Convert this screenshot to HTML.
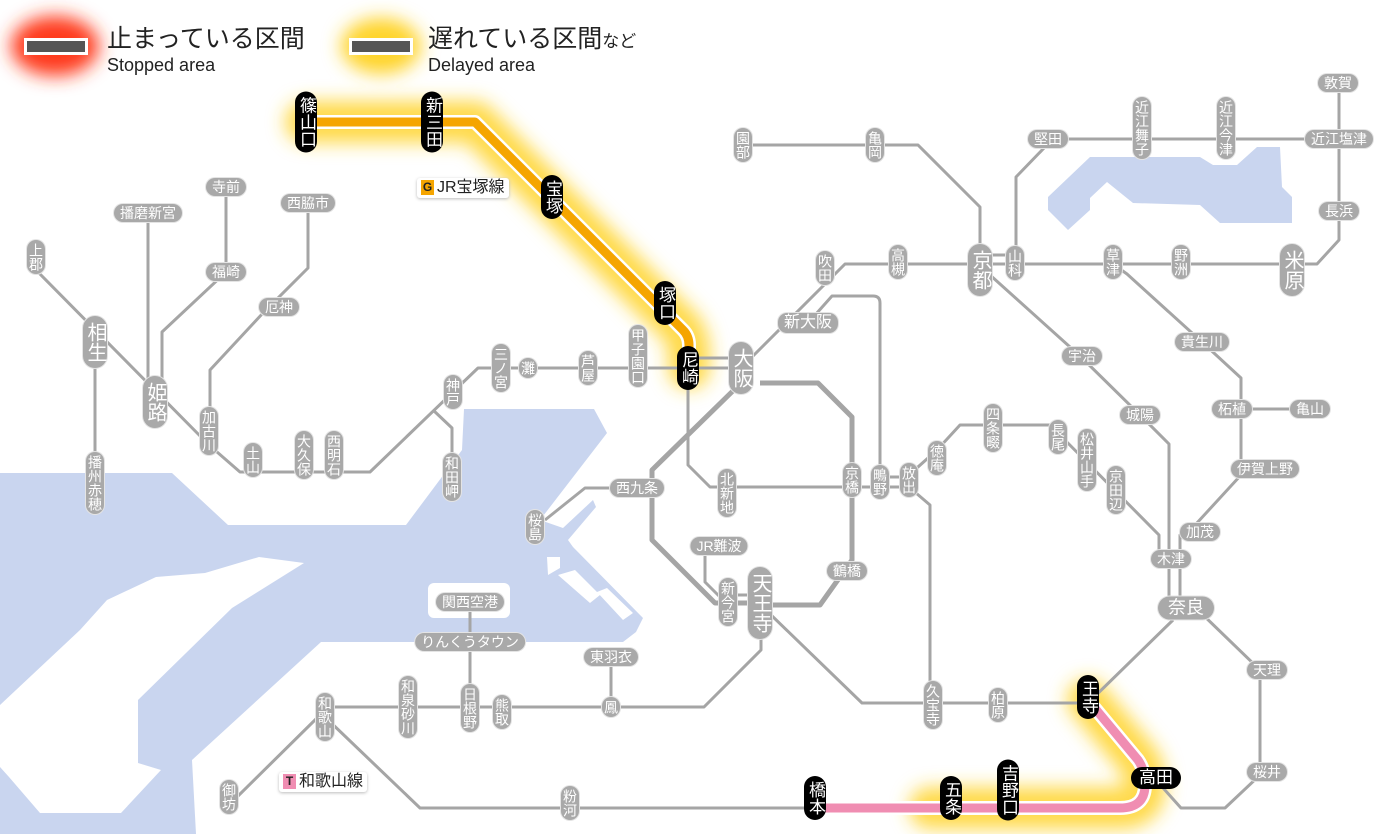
<!DOCTYPE html>
<html><head><meta charset="utf-8">
<style>
html,body{margin:0;padding:0;background:#fff;}
#w{position:relative;width:1400px;height:834px;overflow:hidden;background:#fff;}
svg{position:absolute;left:0;top:0;}
.s{position:absolute;transform:translate(-50%,-50%);background:#a9a9a9;color:#fff;font-family:"Liberation Sans","Noto Sans CJK JP",sans-serif;border-radius:9px;text-align:center;white-space:nowrap;box-shadow:0 0 0 1px #e4e4e4;}
.v{writing-mode:vertical-rl;text-orientation:upright;font-size:14px;line-height:18px;padding:3px 0;letter-spacing:0;}
.h{font-size:14px;line-height:18px;height:18px;padding:0 6px;}
.b{writing-mode:vertical-rl;text-orientation:upright;font-size:20px;line-height:24px;padding:6px 0;border-radius:12px;letter-spacing:0;}
.bh{font-size:18px;line-height:23px;height:23px;padding:0 10px;border-radius:12px;}
.k{background:#000;box-shadow:none;writing-mode:vertical-rl;text-orientation:upright;font-size:17px;line-height:22px;padding:5px 0;border-radius:11px;letter-spacing:0;}
.kh{background:#000;box-shadow:none;font-size:17px;line-height:22px;height:22px;padding:0 8px;border-radius:11px;}
.lt{position:absolute;font-family:"Liberation Sans","Noto Sans CJK JP",sans-serif;color:#222;white-space:nowrap;}
.tag{position:absolute;background:#fff;box-shadow:0 1px 3px #bbb;border-radius:3px;font-family:"Liberation Sans","Noto Sans CJK JP",sans-serif;font-size:16px;line-height:20px;padding:0 4px;color:#222;white-space:nowrap;}
.tag i{font-style:normal;display:inline-block;width:13px;height:15px;line-height:15px;font-size:12px;font-weight:bold;text-align:center;margin-right:3px;vertical-align:1px;}
</style></head><body><div id="w">
<svg width="1400" height="834" viewBox="0 0 1400 834">
<defs>
<filter id="bl2" x="-50%" y="-50%" width="200%" height="200%"><feGaussianBlur stdDeviation="9"/></filter>
</defs>
<path fill="#c9d5ef" d="M0,473 L172,473 L228,525 L406,525 L462,450 L464,409 L594,409 L607,433 L540,520 L563,528 L593,500 L596,507 L568,540 L573,547 L643,618 L636,632 L623,642 L321,642 L192,760 L196,834 L0,834 Z"/>
<path fill="#fff" d="M0,705 L80,630 L107,600 L156,577 L205,573 L259,557 L304,563 L232,608 L138,700 L138,763 L161,770 L121,813 L40,813 L9,777 L0,767 Z"/>
<path fill="#fff" d="M547,557 L560,557 L560,568 L548,575 Z M558,575 L575,570 L600,595 L590,603 Z M597,592 L607,588 L633,613 L623,620 Z"/>
<rect x="428" y="583" width="82" height="35" rx="6" fill="#fff"/>
<path fill="#c9d5ef" d="M1048,197 L1090,157 L1200,157 L1213,165 L1237,165 L1257,147 L1280,147 L1282,187 L1292,197 L1292,223 L1220,223 L1200,205 L1133,203 L1107,182 L1090,198 L1090,210 L1068,230 L1048,210 Z"/>
<g filter="url(#bl2)">
<path d="M306,122 H475 L683,330 L689,345 V368" fill="none" stroke="#ffd42a" stroke-width="42" stroke-linejoin="round" stroke-linecap="round" opacity="0.85"/>
<path d="M1088,700 L1138,760 Q1145,770 1145,785 Q1145,808 1120,808 H930" fill="none" stroke="#ffd42a" stroke-width="42" stroke-linejoin="round" stroke-linecap="round" opacity="0.85"/>
<ellipse cx="55" cy="46" rx="44" ry="30" fill="#ff3a1a"/>
<ellipse cx="381" cy="46" rx="40" ry="28" fill="#ffd42a"/>
</g>
<g fill="none" stroke="#a5a5a5" stroke-width="3" stroke-linejoin="round">
<path d="M36,270 L209,445 L240,472 L370,472 L453,392 L478,368 L741,368"/>
<path d="M95,342 V483"/>
<path d="M148,213 V395"/>
<path d="M226,187 V272 M226,272 L162,332 V395"/>
<path d="M308,203 V268 L263,313 L210,370 V430"/>
<path d="M433,410 L452,428 V477"/>
<path d="M688,358 H741"/>
<path d="M741,368 L826,283 L845,264 H1317 L1339,240 V83"/>
<path d="M808,323 L832,296 H873 Q880,296 880,303 V482"/>
<path d="M743,145 H918 L980,207 V270"/>
<path d="M1048,139 H1339 M1045,147 L1016,177 V263"/>
<path d="M980,255 H1015"/>
<path d="M990,275 L1080,356 L1140,415 L1169,444 V609"/>
<path d="M1113,264 L1127,274 L1202,342 L1241,378 V469 M1232,409 H1310 M1241,475 L1196,524 L1180,535 V609"/>
<path d="M909,475 L937,450 L960,425 H1050 L1159,535 V560"/>
<path d="M688,368 V465 L710,487 H909 M880,477 H909"/>
<path d="M909,487 L930,505 V705"/>
<path d="M637,488 H585 L545,520"/>
<path d="M705,546 V582 L725,602 M728,595 H760"/>
<path d="M761,630 V650 L704,707 H325"/>
<path d="M769,613 L862,703 H1088 L1173,620"/>
<path d="M1200,612 L1260,670 V775 L1225,808 H1181 L1156,780"/>
<path d="M325,717 L420,808 H815"/>
<path d="M318,717 L237,797"/>
<path d="M470,602 V708 M611,657 V707"/>
</g>
<path d="M760,383 H818 L852,417 V560 L820,605 H760 M741,383 L652,470 V540 L715,603 H760" fill="none" stroke="#a5a5a5" stroke-width="5" stroke-linejoin="round"/>
<g fill="none" stroke-linejoin="round">
<path d="M306,122 H475 L683,330 Q689,336 689,345 V368" stroke="#fff" stroke-width="14"/>
<path d="M306,122 H475 L683,330 Q689,336 689,345 V368" stroke="#f5a500" stroke-width="9"/>
<path d="M1088,700 L1138,760 Q1145,770 1145,785 Q1145,808 1120,808 H815" stroke="#fff" stroke-width="14"/>
<path d="M1088,700 L1138,760 Q1145,770 1145,785 Q1145,808 1120,808 H815" stroke="#f08db2" stroke-width="9"/>
</g>
<rect x="24" y="38" width="64" height="17" fill="#fff"/><rect x="27" y="41" width="58" height="11" fill="#555"/>
<rect x="349" y="38" width="64" height="17" fill="#fff"/><rect x="352" y="41" width="58" height="11" fill="#555"/>
</svg>

<div class="lt" style="left:107px;top:24px;font-size:25px;line-height:30px;">止まっている区間</div>
<div class="lt" style="left:107px;top:54px;font-size:18px;line-height:22px;">Stopped area</div>
<div class="lt" style="left:428px;top:24px;font-size:25px;line-height:30px;">遅れている区間<span style="font-size:17px">など</span></div>
<div class="lt" style="left:428px;top:54px;font-size:18px;line-height:22px;">Delayed area</div>

<div class="tag" style="left:417px;top:178px;"><i style="background:#f5a500;color:#222">G</i>JR宝塚線</div>
<div class="tag" style="left:279px;top:772px;"><i style="background:#f08db2;color:#222">T</i>和歌山線</div>

<div class="s v" style="left:36px;top:257px">上郡</div>
<div class="s v" style="left:95px;top:483px">播州赤穂</div>
<div class="s v" style="left:209px;top:431px">加古川</div>
<div class="s v" style="left:253px;top:460px">土山</div>
<div class="s v" style="left:304px;top:455px">大久保</div>
<div class="s v" style="left:334px;top:455px">西明石</div>
<div class="s v" style="left:453px;top:392px">神戸</div>
<div class="s v" style="left:452px;top:477px">和田岬</div>
<div class="s v" style="left:501px;top:368px">三ノ宮</div>
<div class="s v" style="left:528px;top:368px">灘</div>
<div class="s v" style="left:588px;top:368px">芦屋</div>
<div class="s v" style="left:638px;top:356px">甲子園口</div>
<div class="s v" style="left:825px;top:268px">吹田</div>
<div class="s v" style="left:898px;top:262px">高槻</div>
<div class="s v" style="left:1015px;top:263px">山科</div>
<div class="s v" style="left:743px;top:145px">園部</div>
<div class="s v" style="left:875px;top:145px">亀岡</div>
<div class="s v" style="left:535px;top:527px">桜島</div>
<div class="s v" style="left:727px;top:493px">北新地</div>
<div class="s v" style="left:852px;top:480px">京橋</div>
<div class="s v" style="left:880px;top:482px">鴫野</div>
<div class="s v" style="left:909px;top:480px">放出</div>
<div class="s v" style="left:937px;top:458px">徳庵</div>
<div class="s v" style="left:728px;top:602px">新今宮</div>
<div class="s v" style="left:1142px;top:128px">近江舞子</div>
<div class="s v" style="left:1226px;top:128px">近江今津</div>
<div class="s v" style="left:1113px;top:262px">草津</div>
<div class="s v" style="left:1181px;top:262px">野洲</div>
<div class="s v" style="left:993px;top:428px">四条畷</div>
<div class="s v" style="left:1058px;top:437px">長尾</div>
<div class="s v" style="left:1087px;top:460px">松井山手</div>
<div class="s v" style="left:1116px;top:490px">京田辺</div>
<div class="s v" style="left:933px;top:705px">久宝寺</div>
<div class="s v" style="left:998px;top:705px">柏原</div>
<div class="s v" style="left:570px;top:803px">粉河</div>
<div class="s v" style="left:325px;top:717px">和歌山</div>
<div class="s v" style="left:408px;top:707px">和泉砂川</div>
<div class="s v" style="left:470px;top:708px">日根野</div>
<div class="s v" style="left:502px;top:712px">熊取</div>
<div class="s v" style="left:611px;top:707px">鳳</div>
<div class="s v" style="left:229px;top:797px">御坊</div>
<div class="s b" style="left:95px;top:342px">相生</div>
<div class="s b" style="left:155px;top:402px">姫路</div>
<div class="s b" style="left:741px;top:368px">大阪</div>
<div class="s b" style="left:980px;top:270px">京都</div>
<div class="s b" style="left:1292px;top:270px">米原</div>
<div class="s b" style="left:760px;top:603px">天王寺</div>
<div class="s h" style="left:148px;top:213px">播磨新宮</div>
<div class="s h" style="left:226px;top:187px">寺前</div>
<div class="s h" style="left:226px;top:272px">福崎</div>
<div class="s h" style="left:308px;top:203px">西脇市</div>
<div class="s h" style="left:279px;top:307px">厄神</div>
<div class="s h" style="left:808px;top:323px;font-size:16px;line-height:20px;height:20px">新大阪</div>
<div class="s h" style="left:637px;top:488px">西九条</div>
<div class="s h" style="left:719px;top:546px">JR難波</div>
<div class="s h" style="left:847px;top:571px">鶴橋</div>
<div class="s h" style="left:1338px;top:83px">敦賀</div>
<div class="s h" style="left:1048px;top:139px">堅田</div>
<div class="s h" style="left:1339px;top:139px">近江塩津</div>
<div class="s h" style="left:1339px;top:211px">長浜</div>
<div class="s h" style="left:1082px;top:356px">宇治</div>
<div class="s h" style="left:1140px;top:415px">城陽</div>
<div class="s h" style="left:1202px;top:342px">貴生川</div>
<div class="s h" style="left:1232px;top:409px">柘植</div>
<div class="s h" style="left:1310px;top:409px">亀山</div>
<div class="s h" style="left:1265px;top:469px">伊賀上野</div>
<div class="s h" style="left:1200px;top:532px">加茂</div>
<div class="s h" style="left:1171px;top:559px">木津</div>
<div class="s h" style="left:1267px;top:670px">天理</div>
<div class="s h" style="left:1267px;top:772px">桜井</div>
<div class="s h" style="left:611px;top:657px">東羽衣</div>
<div class="s h" style="left:470px;top:602px">関西空港</div>
<div class="s h" style="left:470px;top:642px">りんくうタウン</div>
<div class="s bh" style="left:1186px;top:608px">奈良</div>
<div class="s k" style="left:306px;top:122px">篠山口</div>
<div class="s k" style="left:432px;top:122px">新三田</div>
<div class="s k" style="left:552px;top:197px">宝塚</div>
<div class="s k" style="left:665px;top:303px">塚口</div>
<div class="s k" style="left:688px;top:368px">尼崎</div>
<div class="s k" style="left:1088px;top:697px">王寺</div>
<div class="s k" style="left:1008px;top:790px">吉野口</div>
<div class="s k" style="left:951px;top:798px">五条</div>
<div class="s k" style="left:815px;top:798px">橋本</div>
<div class="s kh" style="left:1156px;top:778px">高田</div>
</div></body></html>
